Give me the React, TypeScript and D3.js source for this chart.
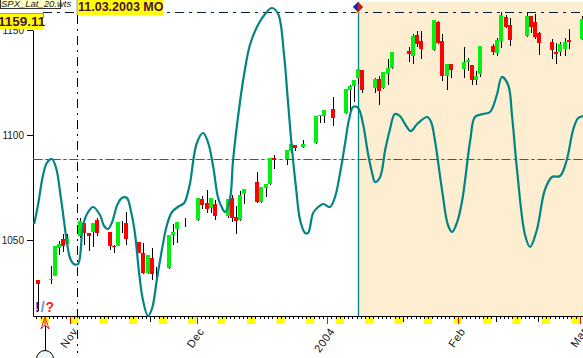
import React from "react";
import * as d3 from "d3";

const candleDates = [
  "2003-10-24","2003-10-27","2003-10-28","2003-10-29","2003-10-30","2003-10-31",
  "2003-11-03","2003-11-04","2003-11-05","2003-11-06","2003-11-07",
  "2003-11-10","2003-11-11","2003-11-12","2003-11-13","2003-11-14",
  "2003-11-17","2003-11-18","2003-11-19","2003-11-20","2003-11-21",
  "2003-11-24","2003-11-25","2003-11-26","2003-11-28",
  "2003-12-01","2003-12-02","2003-12-03","2003-12-04","2003-12-05",
  "2003-12-08","2003-12-09","2003-12-10","2003-12-11","2003-12-12",
  "2003-12-15","2003-12-16","2003-12-17","2003-12-18","2003-12-19",
  "2003-12-22","2003-12-23","2003-12-24","2003-12-26",
  "2003-12-29","2003-12-30","2003-12-31","2004-01-02",
  "2004-01-05","2004-01-06","2004-01-07","2004-01-08","2004-01-09",
  "2004-01-12","2004-01-13","2004-01-14","2004-01-15","2004-01-16",
  "2004-01-20","2004-01-21","2004-01-22","2004-01-23",
  "2004-01-26","2004-01-27","2004-01-28","2004-01-29","2004-01-30",
  "2004-02-02","2004-02-03","2004-02-04","2004-02-05","2004-02-06",
  "2004-02-09","2004-02-10","2004-02-11","2004-02-12","2004-02-13",
  "2004-02-17","2004-02-18","2004-02-19","2004-02-20",
  "2004-02-23","2004-02-24","2004-02-25","2004-02-26","2004-02-27",
  "2004-03-01",
];
const openValues = [
  1031,1031,1032.9,1046.2,1050.5,1048.1,
  1051.9,1058.1,1053.3,1053.8,1059.5,
  1053.8,1047.1,1047.1,1056,1058.1,
  1049,1043.8,1034.3,1041.4,1035,
  1036.7,1052.4,1055.2,1058,
  1059.5,1069.5,1067.6,1065.2,1067.1,
  1061.4,1070,1061,1059.5,1071.9,
  1077.6,1068.1,1074.8,1076.7,1089,
  1088.6,1092.4,1095.2,1094.3,
  1096.2,1109,1109,1112.4,
  1110.5,1121.4,1123.3,1127.1,1131,
  1122.4,1126.7,1122.4,1129,1131.9,
  1140,1137.6,1147.6,1144.8,
  1140.5,1153.8,1144.8,1128.1,1133.8,
  1131.4,1134.8,1133.3,1126.2,1129,
  1142.4,1139,1144.8,1156.2,1152.4,
  1147.1,1156.7,1153.8,1148.6,
  1144.3,1139.5,1139.5,1141,1145.2,
  1145.7,
];
const highValues = [
  1031,1037.6,1047.1,1049.5,1052.9,1052.9,
  1060.5,1058.1,1053.3,1058.1,1060.5,
  1053.8,1047.6,1058.6,1059,1063.3,
  1049,1048.6,1042.9,1046.2,1037.1,
  1052.4,1057.6,1058.6,1060.5,
  1070,1071,1073.8,1070,1069,
  1069.5,1071.4,1066.2,1073.3,1074.3,
  1082.4,1075.2,1076.7,1089,1090.5,
  1092.9,1095.7,1095.2,1097.6,
  1109,1109.5,1111.9,1118.1,
  1121.9,1123.8,1126.2,1131.4,1131,
  1127.1,1128.1,1130,1136.2,1139.5,
  1141.9,1148.1,1149.5,1149.5,
  1154.8,1154.3,1148.1,1133.8,1133.8,
  1141.9,1136.7,1133.3,1130.5,1142.4,
  1143.3,1146.2,1158.6,1157.1,1155.7,
  1158.1,1156.7,1157.6,1149,
  1145.7,1143.8,1144.3,1146.2,1150.5,
  1156.7,
];
const lowValues = [
  1016.2,1029,1032.9,1042.9,1044.3,1046.2,
  1051,1047.6,1044.8,1046.7,1051.9,
  1045.2,1043.8,1047.1,1053.3,1047.6,
  1043.8,1033.8,1033.8,1031,1031,
  1036.2,1047.6,1048.6,1056.2,
  1059,1064.8,1062.9,1062.9,1059.5,
  1060.5,1058.6,1052.9,1059,1067.1,
  1067.6,1067.6,1070.5,1076.2,1083.8,
  1085.7,1091.4,1092.4,1093.8,
  1095.7,1105.7,1105.7,1104.3,
  1110,1111,1115.7,1124.3,1120,
  1120,1114.3,1121.9,1123.8,1131.4,
  1134.8,1133.8,1141.9,1136.2,
  1140,1143.3,1125.7,1121.4,1127.1,
  1127.1,1130.5,1123.8,1123.8,1127.6,
  1138.1,1137.6,1141.4,1151,1142.4,
  1146.7,1148.6,1145.7,1138.1,
  1136.2,1133.8,1137.6,1137.6,1141,
  1145.2,
];
const closeValues = [
  1029,1031.4,1047.1,1048.1,1047.1,1051,
  1059,1053.3,1051.9,1058.1,1053.3,
  1047.1,1046.7,1058.6,1056,1050.5,
  1043.8,1034.3,1042.9,1033.8,1035,
  1052.4,1053.8,1058.6,1058,
  1070,1066.7,1064.8,1070,1061.4,
  1069.5,1060.5,1059,1071.4,1074.3,
  1068.1,1075.2,1076.7,1089,1088.6,
  1092.9,1095.7,1093.8,1095.7,
  1109,1109.5,1111.9,1108.1,
  1121.9,1123.3,1126.2,1131.4,1121.4,
  1126.7,1121,1130,1131.9,1139.5,
  1138.6,1147.1,1143.3,1141,
  1154.8,1143.8,1128.1,1133.8,1131,
  1134.8,1135.7,1126.2,1128.1,1142.4,
  1139.5,1145.2,1157.1,1151.4,1145.2,
  1156.7,1151.4,1146.7,1143.8,
  1140.5,1138.6,1143.3,1144.3,1144.3,
  1155.2,
];

// Cycle line: days after 2003-11-01, and height of the line (arbitrary cycle units)
const cycleDays = [
  -8.9,-8,-6.8,-5.9,-4.7,-3.7,-2.5,-1.1,-0.4,0.5,1.5,2.7,3.9,5.1,6.7,7.7,8.6,9.6,10.8,11.9,
  13.1,14.1,15,16,16.9,18.1,19.1,20.2,21.4,22.6,23.8,25.2,26.7,27.6,28.1,29.7,31.2,32.4,33.6,34.7,
  35.7,36.4,37.6,38.3,40,40.9,42.3,44.2,45.9,47.5,49,50.4,51.3,52.3,53.3,54.2,55.4,56.1,57.3,58.5,
  59.7,61.3,62.5,63.7,64.9,65.8,66.8,68,69.1,70.3,71.3,72,73.2,74.4,75.5,76.7,77.9,79.1,80.5,82,
  84.4,85.3,86.2,87.9,89.3,90.3,91.5,92.7,94.6,95.7,97.6,99.3,100.9,102.1,103.6,104.5,105.7,107.6,
  108.8,110.4,112.3,114,115.9,117.5,119,120.2,121.4,
];
const cycleValues = [
  134,153,183,195,199,190,158,115,100,94,94,133,146,151,143,132,129,136,153,160,
  160,146,125,85,58,42,50,78,108,133,146,151,155,166,175,215,225,215,191,161,
  150,146,160,198,258,283,313,333,344,350,344,303,258,208,168,138,125,125,145,151,
  154,151,161,185,215,238,251,250,235,205,185,176,181,208,228,244,242,234,227,234,
  241,236,218,168,133,126,136,158,218,241,244,246,263,281,273,243,188,123,
  111,128,168,181,182,198,228,240,242,
];

const yTicks = [1050, 1100, 1150];
const monthTicks = [
  { date: "2003-11-01", label: "Nov" },
  { date: "2003-12-01", label: "Dec" },
  { date: "2004-01-01", label: "2004" },
  { date: "2004-02-01", label: "Feb" },
  { date: "2004-03-01", label: "Mar" },
];
const tallTickDates = ["2003-11-20", "2004-01-19", "2004-02-10", "2004-02-20"];
const referenceLevel = 1088.6;
const topLevel = 1158.4;
const priceLabel = "1159.11";
const dateLabel = "11.03.2003 MO";
const fileLabel = "SPX_Lat_20.wts";

const parse = (s: string) => new Date(s + "T00:00:00Z");
const WIDTH = 583;
const HEIGHT = 358;
const AXIS_Y = 316.5;
const AXIS_X = 33.5;
const TEAL = "#008484";
const SANS = "'Liberation Sans', Arial, sans-serif";

export default function App() {
  const x = d3
    .scaleUtc()
    .domain([parse("2003-10-24"), parse("2004-03-01")])
    .range([38, 581.5]);
  const y = d3.scaleLinear().domain([1050, 1150]).range([240, 30]);
  const cycleY = d3.scaleLinear().domain([0, 358]).range([358, 0]);
  const nov1 = parse("2003-11-01").getTime();
  const dayX = (d: number) => x(new Date(nov1 + d * 86400000));
  const slotX = (date: Date) => x(date) - 1.6;

  const days = d3.utcDay.range(parse("2003-10-20"), parse("2004-03-03"));
  const weekends = days.filter((d) => d.getUTCDay() === 6);
  const line = d3
    .line<number>()
    .x((d) => dayX(d))
    .y((_, i) => cycleY(cycleValues[i]))
    .curve(d3.curveCatmullRom.alpha(0.5));

  const splitX = 358.5;
  const dateLineX = 77.5;
  const refY = Math.round(y(referenceLevel)) + 0.5;
  const topY = Math.round(y(topLevel)) + 0.5;

  return (
    <svg
      width={WIDTH}
      height={HEIGHT}
      style={{ position: "absolute", left: 0, top: 0, background: "#fff", overflow: "hidden" }}
    >
      <rect x={splitX} y={2} width={WIDTH - splitX} height={AXIS_Y - 2} fill="#fdeed2" />

      {/* axis furniture */}
      {weekends.map((d) => (
        <rect key={+d} x={slotX(d)} y={317} width={8.2} height={7} fill="#ffff00" />
      ))}
      {days
        .filter((d) => slotX(d) > 34)
        .map((d) => (
          <line
            key={+d}
            x1={Math.round(slotX(d)) + 0.5}
            x2={Math.round(slotX(d)) + 0.5}
            y1={317}
            y2={319}
            stroke="#000"
          />
        ))}
      {tallTickDates.map((s) => (
        <line
          key={s}
          x1={Math.round(slotX(parse(s))) + 0.5}
          x2={Math.round(slotX(parse(s))) + 0.5}
          y1={317}
          y2={322}
          stroke="#000"
        />
      ))}
      {monthTicks.map((m) => (
        <line
          key={m.date}
          x1={Math.round(slotX(parse(m.date))) + 0.5}
          x2={Math.round(slotX(parse(m.date))) + 0.5}
          y1={317}
          y2={324}
          stroke="#ff0000"
        />
      ))}
      {monthTicks.map((m) => (
        <text
          key={m.label}
          transform={`translate(${slotX(parse(m.date)) + 5},329) rotate(-55)`}
          textAnchor="end"
          fontFamily={SANS}
          fontSize={11}
          letterSpacing={0.6}
          dy="0.35em"
          fill="#111"
        >
          {m.label}
        </text>
      ))}
      <line x1={AXIS_X} x2={AXIS_X} y1={31} y2={AXIS_Y} stroke="#000" />
      <line x1={AXIS_X} x2={WIDTH} y1={AXIS_Y} y2={AXIS_Y} stroke="#000" />
      {yTicks.map((t) => (
        <g key={t}>
          <line x1={27} x2={AXIS_X} y1={Math.round(y(t)) + 0.5} y2={Math.round(y(t)) + 0.5} stroke="#000" />
          <text
            x={24}
            y={y(t)}
            dy="0.35em"
            textAnchor="end"
            fontFamily={SANS}
            fontSize={10}
            fill="#222"
          >
            {t}
          </text>
        </g>
      ))}

      {/* guide lines */}
      <line x1={AXIS_X} x2={WIDTH} y1={refY} y2={refY} stroke="#ffff00" strokeWidth={1} />
      <line
        x1={AXIS_X}
        x2={WIDTH}
        y1={refY}
        y2={refY}
        stroke="#1f6a6a"
        strokeWidth={1}
        strokeDasharray="9 3 3 3"
      />
      <line
        x1={43}
        x2={WIDTH}
        y1={topY}
        y2={topY}
        stroke="#0c1c40"
        strokeDasharray="9 5 3 5"
      />
      <line
        x1={dateLineX}
        x2={dateLineX}
        y1={15}
        y2={353}
        stroke="#000"
        strokeDasharray="9 5 2 5"
      />
      <line x1={splitX} x2={splitX} y1={2} y2={AXIS_Y} stroke={TEAL} strokeWidth={1.3} />

      {/* candles */}
      {candleDates.map((s, i) => {
        const cx = Math.round(x(parse(s)));
        const o = openValues[i];
        const c = closeValues[i];
        const top = Math.round(y(Math.max(o, c)));
        const bottom = Math.round(y(Math.min(o, c)));
        return (
          <g key={s}>
            <line
              x1={cx + 0.5}
              x2={cx + 0.5}
              y1={Math.round(y(highValues[i]))}
              y2={Math.round(y(lowValues[i]))}
              stroke="#000"
            />
            {o !== c && (
              <rect
                x={cx - 2}
                y={top}
                width={4}
                height={Math.max(1, bottom - top)}
                fill={c > o ? "#00f010" : "#ff0000"}
              />
            )}
          </g>
        );
      })}

      <path d={line(cycleDays) || ""} fill="none" stroke={TEAL} strokeWidth={2.2} />

      {/* marker */}
      <path d="M358 2 L358 12 L353 7 Z" fill="#0a1fd0" stroke="#555" strokeWidth={0.5} />
      <path d="M358 2 L358 12 L363 7 Z" fill="#e01010" stroke="#555" strokeWidth={0.5} />
      <rect x={356} y={12} width={4} height={1} fill="#e8a040" />

      {/* event arrow */}
      <line x1={45.5} x2={45.5} y1={326} y2={351} stroke="#000" />
      <circle cx={45} cy={359} r={8.5} fill="#eef6f8" stroke="#000" />
      <path
        d="M45 317 L41 329 L45 325 L49 329 Z M45 317 L45 325"
        fill="none"
        stroke="#ff2020"
        strokeWidth={1}
      />
      <text x={35} y={312} fontFamily={SANS} fontSize={14} fontWeight={700}>
        <tspan fill="#1a1ae0">!</tspan>
        <tspan fill="#6a90c8" dx={1}>/</tspan>
        <tspan fill="#ff2020" dx={1}>?</tspan>
      </text>

      {/* labels */}
      <rect x={0.5} y={-2} width={60} height={10.5} fill="#ffffc8" stroke="#333" />
      <text x={1} y={7} fontFamily={SANS} fontSize={9.5} fontStyle="italic" fill="#222">
        {fileLabel}
      </text>
      <rect x={0} y={13} width={43} height={16} fill="#ffff00" />
      <path d="M0 13.5 H43.5 V18" fill="none" stroke="#999" />
      <text x={-2} y={26} fontFamily={SANS} fontSize={13.5} fontWeight={700} fill="#4a1040">
        {priceLabel}
      </text>
      <rect x={77} y={-1} width={86} height={16} fill="#ffff00" />
      <line x1={77} x2={77} y1={0} y2={15} stroke="#999" />
      <text x={78} y={11} fontFamily={SANS} fontSize={12.5} fontWeight={700} fill="#4a1040">
        {dateLabel}
      </text>
    </svg>
  );
}
